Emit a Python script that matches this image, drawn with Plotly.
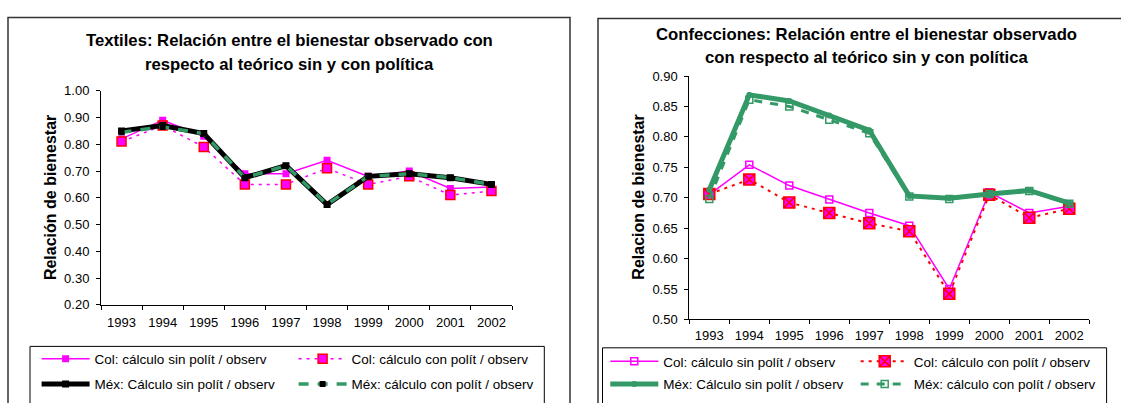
import plotly.graph_objects as go

# ---------------- data ----------------
years = ["1993", "1994", "1995", "1996", "1997", "1998", "1999", "2000", "2001", "2002"]

# Textiles
tex_col_sin = [0.82, 0.89, 0.83, 0.69, 0.69, 0.74, 0.68, 0.70, 0.635, 0.64]
tex_col_con = [0.81, 0.87, 0.79, 0.65, 0.65, 0.71, 0.65, 0.68, 0.61, 0.625]
tex_mex_sin = [0.85, 0.87, 0.84, 0.675, 0.72, 0.575, 0.68, 0.69, 0.675, 0.65]
tex_mex_con = [0.845, 0.865, 0.84, 0.675, 0.72, 0.575, 0.68, 0.69, 0.675, 0.65]

# Confecciones
con_col_sin = [0.705, 0.754, 0.720, 0.697, 0.675, 0.654, 0.550, 0.709, 0.675, 0.686]
con_col_con = [0.706, 0.730, 0.692, 0.675, 0.658, 0.645, 0.542, 0.705, 0.667, 0.682]
con_mex_sin = [0.713, 0.869, 0.859, 0.835, 0.811, 0.703, 0.699, 0.706, 0.712, 0.691]
con_mex_con = [0.698, 0.861, 0.850, 0.828, 0.806, 0.702, 0.698, 0.706, 0.711, 0.690]

names = ["Col: cálculo sin polít / observ", "Col: cálculo con polít / observ",
         "Méx: Cálculo sin polít / observ", "Méx: cálculo con polít / observ"]

title_left = ["Textiles: Relación entre el bienestar observado con",
              "respecto al teórico sin y con política"]
title_right = ["Confecciones: Relación entre el bienestar observado",
               "con respecto al teórico sin y con política"]
ytitle_left = "Relación de bienestar"
ytitle_right = "Relacion de bienestar"

# ---------------- style ----------------
W, H = 1121, 403
FONT = "Liberation Sans, Arial, sans-serif"
MAG = "#FF00FF"
RED = "#FF0000"
GRN = "#339966"
BLK = "#000000"


def px(x):
    return x / W


def py(y):
    return 1 - y / H


fig = go.Figure()

# Left chart traces
fig.add_trace(go.Scatter(x=years, y=tex_col_sin, name=names[0], mode="lines+markers",
                         line=dict(color=MAG, width=1.5),
                         marker=dict(symbol="square", size=7, color=MAG),
                         xaxis="x", yaxis="y", legend="legend"))
fig.add_trace(go.Scatter(x=years, y=tex_col_con, name=names[1], mode="lines+markers",
                         line=dict(color=MAG, width=1.5, dash="3px,5px"),
                         marker=dict(symbol="square", size=9, color=MAG,
                                     line=dict(color=RED, width=1.5)),
                         xaxis="x", yaxis="y", legend="legend2"))
fig.add_trace(go.Scatter(x=years, y=tex_mex_sin, name=names[2], mode="lines+markers",
                         line=dict(color=BLK, width=5),
                         marker=dict(symbol="square", size=7, color=BLK),
                         xaxis="x", yaxis="y", legend="legend3"))
fig.add_trace(go.Scatter(x=years, y=tex_mex_con, name=names[3], mode="lines+markers",
                         line=dict(color=GRN, width=3.5, dash="10px,9px"),
                         marker=dict(symbol="square", size=6, color=BLK),
                         xaxis="x", yaxis="y", legend="legend4"))

# Right chart traces
fig.add_trace(go.Scatter(x=years, y=con_col_sin, name=names[0], mode="lines+markers",
                         line=dict(color=MAG, width=1.5),
                         marker=dict(symbol="square-open", size=7, color=MAG,
                                     line=dict(color=MAG, width=1.5)),
                         xaxis="x2", yaxis="y2", legend="legend5"))
fig.add_trace(go.Scatter(x=years, y=con_col_con, name=names[1], mode="lines+markers",
                         line=dict(color=RED, width=2, dash="3px,5px"),
                         marker=dict(symbol="square-x", size=11, color=MAG,
                                     line=dict(color=RED, width=1.5)),
                         xaxis="x2", yaxis="y2", legend="legend6"))
fig.add_trace(go.Scatter(x=years, y=con_mex_sin, name=names[2], mode="lines+markers",
                         line=dict(color=GRN, width=5),
                         marker=dict(symbol="circle", size=6, color=GRN),
                         xaxis="x2", yaxis="y2", legend="legend7"))
fig.add_trace(go.Scatter(x=years, y=con_mex_con, name=names[3], mode="lines+markers",
                         line=dict(color=GRN, width=3, dash="8px,8px"),
                         marker=dict(symbol="square-open", size=7, color=GRN,
                                     line=dict(color=GRN, width=1.5)),
                         xaxis="x2", yaxis="y2", legend="legend8"))

xcommon = dict(type="category", range=[-0.5, 9.5], tickson="boundaries",
               ticks="outside", ticklen=4, tickcolor=BLK, showline=True,
               linecolor=BLK, linewidth=1, showgrid=False, zeroline=False,
               tickfont=dict(family=FONT, size=13, color=BLK), fixedrange=True)
ycommon = dict(ticks="outside", ticklen=4, tickcolor=BLK, showline=True,
               linecolor=BLK, linewidth=1, showgrid=False, zeroline=False,
               tickformat=".2f", tickfont=dict(family=FONT, size=13, color=BLK),
               ticklabelstandoff=4, fixedrange=True)

legend_common = dict(bgcolor="rgba(0,0,0,0)", borderwidth=0, xanchor="left",
                     yanchor="middle", itemwidth=48, orientation="v",
                     font=dict(family=FONT, size=13.5, color=BLK))

legend_pos = [(36.6, 365.5), (293.6, 365.5), (36.6, 391.7), (293.6, 391.7),
              (605.3, 368.3), (855.7, 368.3), (605.3, 391.7), (855.7, 391.7)]
legends = {}
for i, (lx, ly) in enumerate(legend_pos):
    key = "legend" if i == 0 else "legend%d" % (i + 1)
    legends[key] = dict(legend_common, x=px(lx), y=py(ly))

annotations = []
for (cx, ys, lines) in [(289, (34.3, 59.3), title_left), (866.6, (28.3, 52.3), title_right)]:
    for yy, txt in zip(ys, lines):
        annotations.append(dict(text="<b>%s</b>" % txt, x=px(cx), y=py(yy), xref="paper",
                                yref="paper", xanchor="center", yanchor="middle",
                                showarrow=False,
                                font=dict(family=FONT, size=16.7, color=BLK)))
for (cx, cy, txt) in [(50, 198.5, ytitle_left), (638.5, 197.5, ytitle_right)]:
    annotations.append(dict(text="<b>%s</b>" % txt, x=px(cx), y=py(cy), xref="paper",
                            yref="paper", xanchor="center", yanchor="middle",
                            textangle=-90, showarrow=False,
                            font=dict(family=FONT, size=16, color=BLK)))

shapes = [
    # chart borders
    dict(type="rect", xref="paper", yref="paper", x0=px(8), x1=px(570), y0=py(440), y1=py(11),
         line=dict(color="#333333", width=1.5), layer="below"),
    dict(type="rect", xref="paper", yref="paper", x0=px(598), x1=px(1140), y0=py(440), y1=py(12),
         line=dict(color="#333333", width=1.5), layer="below"),
    # legend borders
    dict(type="rect", xref="paper", yref="paper", x0=px(30), x1=px(544.3), y0=py(440), y1=py(352.5),
         line=dict(color=BLK, width=1), layer="below"),
    dict(type="rect", xref="paper", yref="paper", x0=px(602.5), x1=px(1106.6), y0=py(440), y1=py(354),
         line=dict(color=BLK, width=1), layer="below"),
]

fig.update_layout(
    width=W, height=H, autosize=False,
    margin=dict(l=0, r=0, t=0, b=0),
    paper_bgcolor="white", plot_bgcolor="white",
    font=dict(family=FONT, color=BLK),
    showlegend=True,
    xaxis=dict(xcommon, domain=[px(101), px(512)], anchor="y", ticklabelstandoff=6),
    yaxis=dict(ycommon, domain=[py(309.3), py(87)], range=[0.2, 1.0], dtick=0.1, tick0=0.2,
               anchor="x"),
    xaxis2=dict(xcommon, domain=[px(689.3), px(1089.3)], anchor="y2", ticklabelstandoff=4),
    yaxis2=dict(ycommon, domain=[py(324.5), py(71.7)], range=[0.5, 0.9], dtick=0.05, tick0=0.5,
                anchor="x2"),
    annotations=annotations,
    shapes=shapes,
    **legends,
)

# remove the default 8px page margin so the figure fills the window exactly
fig.write_html("out.html",
               config={"displayModeBar": False},
               post_script="document.body.style.margin='0';"
                           "document.body.style.overflow='hidden';")
